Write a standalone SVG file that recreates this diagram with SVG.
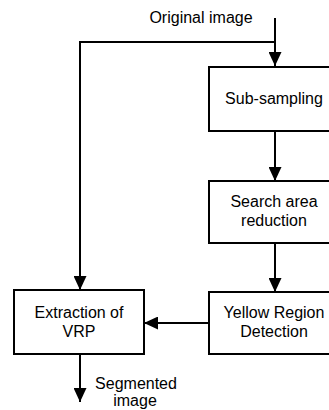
<svg xmlns="http://www.w3.org/2000/svg" width="329" height="410" viewBox="0 0 329 410">
<defs>
<marker id="arr" viewBox="0 0 14 13" refX="14" refY="6.5" markerWidth="14" markerHeight="13" markerUnits="userSpaceOnUse" orient="auto">
<path d="M0,0 L14,6.5 L0,13 Z" fill="#000"/>
</marker>
</defs>
<style>
.box{fill:#fff;stroke:#000;stroke-width:2}
.t{font-family:"Liberation Sans",Arial,sans-serif;font-size:16px;fill:#000;text-anchor:middle}
.c{fill:none;stroke:#000;stroke-width:2}
</style>
<rect width="329" height="410" fill="#fff"/>
<g id="connectors">
<path class="c" d="M275,18 V66" marker-end="url(#arr)"/>
<path class="c" d="M275,42 H80 V290" marker-end="url(#arr)"/>
<path class="c" d="M275,131 V181" marker-end="url(#arr)"/>
<path class="c" d="M275,243 V292" marker-end="url(#arr)"/>
<path class="c" d="M209,323 H144" marker-end="url(#arr)"/>
<path class="c" d="M80,354 V402" marker-end="url(#arr)"/>
</g>
<g id="label-original"><text class="t" x="201" y="23">Original image</text></g>
<g id="sub-sampling">
<rect class="box" x="209" y="67" width="132" height="64"/>
<text class="t" x="274" y="104">Sub-sampling</text>
</g>
<g id="search-area">
<rect class="box" x="209" y="181" width="132" height="62"/>
<text class="t" x="274" y="207">Search area</text>
<text class="t" x="274" y="226">reduction</text>
</g>
<g id="yellow-region">
<rect class="box" x="209" y="292" width="132" height="62"/>
<text class="t" x="274" y="318">Yellow Region</text>
<text class="t" x="274" y="337">Detection</text>
</g>
<g id="extraction">
<rect class="box" x="14" y="290" width="130" height="64"/>
<text class="t" x="79" y="318">Extraction of</text>
<text class="t" x="79" y="337">VRP</text>
</g>
<g id="label-segmented">
<text class="t" x="136" y="389">Segmented</text>
<text class="t" x="135" y="406">image</text>
</g>
</svg>
